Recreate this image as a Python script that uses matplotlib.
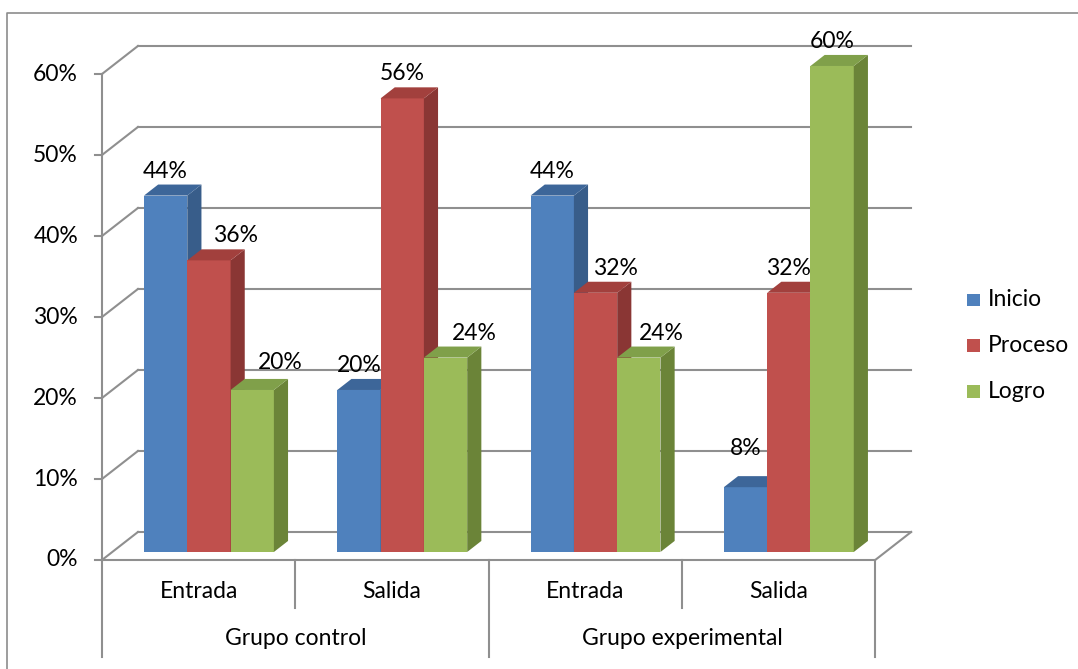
import matplotlib
matplotlib.use("Agg")
import matplotlib.pyplot as plt
from matplotlib.patches import Polygon, Rectangle

plt.rcParams['font.family'] = ['Lato', 'DejaVu Sans']

# ---- data ----
categories = ["Entrada", "Salida", "Entrada", "Salida"]
groups = ["Grupo control", "Grupo experimental"]
series = ["Inicio", "Proceso", "Logro"]
inicio = [44, 20, 44, 8]
proceso = [36, 56, 32, 32]
logro = [20, 24, 24, 60]
y_ticks = [0, 10, 20, 30, 40, 50, 60]
y_tick_labels = ["0%", "10%", "20%", "30%", "40%", "50%", "60%"]

values = [inicio, proceso, logro]
front_colors = ["#4f81bd", "#c0504d", "#9bbb59"]
side_colors = ["#385d8a", "#8a3634", "#6b8438"]
top_colors = ["#3d6699", "#a2403d", "#80a04a"]

# ---- oblique projection settings (x in category units, y in percent) ----
PX_X = 193.3    # pixels per category
PX_Y = 8.1      # pixels per percentage point
DX = 0.186      # depth shift along x for the full floor depth
DY = 3.46       # depth shift along y for the full floor depth
F1, F2 = 0.286, 0.68   # bar depth range (fraction of floor depth)
BW = 0.224      # bar width
GRID = "#8f8f8f"
FS = 16.5

# data-label nudges in pixels (series index, category index) -> (dx, dy)
label_nudge = {
    (1, 0): (27, 0), (2, 0): (28, 2.5),
    (2, 1): (29, 0),
    (1, 2): (20, 0), (2, 2): (22, 0),
    (0, 3): (0, 14),
}
LABEL_GAP = 24.5

fig = plt.figure(figsize=(10.78, 6.69), dpi=100)
ax = fig.add_axes([0, 0, 1, 1])
ax.set_xlim(-102 / PX_X, (1078 - 102) / PX_X)
ax.set_ylim((560 - 669) / PX_Y, 560 / PX_Y)
ax.axis("off")

n_cat = len(categories)

# border of the chart area
ax.plot([-0.492, -0.492, 6], [-30, 67.5, 67.5], color="#8c8c8c", lw=1.2,
        solid_capstyle="butt", zorder=1)

# back wall gridlines, left wall diagonals and value ticks
for t, lab in zip(y_ticks, y_tick_labels):
    ax.plot([DX, n_cat + DX], [t + DY, t + DY], color=GRID, lw=1.5, zorder=2)
    ax.plot([0, DX], [t, t + DY], color=GRID, lw=1.5, zorder=2)
    ax.plot([-0.036, 0], [t, t], color=GRID, lw=1.5, zorder=2)
    ax.text(-0.124, t, lab, ha="right", va="center", fontsize=FS, color="black")

# left axis and floor edges
ax.plot([0, 0], [0, y_ticks[-1]], color=GRID, lw=1.5, zorder=2)
ax.plot([0, n_cat, n_cat + DX], [0, 0, DY], color=GRID, lw=1.5, zorder=2)

# bars
for i in range(n_cat):
    for j in range(len(series)):
        v = values[j][i]
        xl = i + 0.5 + F1 * DX + (j - 1.5) * BW
        xr = xl + BW
        y0 = F1 * DY
        d_x = (F2 - F1) * DX
        d_y = (F2 - F1) * DY
        ax.add_patch(Polygon([(xl, y0), (xr, y0), (xr, y0 + v), (xl, y0 + v)],
                             closed=True, fc=front_colors[j], ec="none", zorder=3))
        ax.add_patch(Polygon([(xr, y0), (xr + d_x, y0 + d_y), (xr + d_x, y0 + d_y + v), (xr, y0 + v)],
                             closed=True, fc=side_colors[j], ec="none", zorder=3))
        ax.add_patch(Polygon([(xl, y0 + v), (xr, y0 + v), (xr + d_x, y0 + v + d_y), (xl + d_x, y0 + v + d_y)],
                             closed=True, fc=top_colors[j], ec="none", zorder=3))
        nx, ny = label_nudge.get((j, i), (0, 0))
        ax.text((xl + xr) / 2 + nx / PX_X, y0 + v + (LABEL_GAP + ny) / PX_Y, f"{v}%",
                ha="center", va="center", fontsize=FS, color="black", zorder=5)

# category axis: labels and separators
for i, c in enumerate(categories):
    ax.text(i + 0.5, -3.95, c, ha="center", va="center", fontsize=FS)
for k in range(n_cat + 1):
    bottom = -11.98 if k % 2 == 0 else -5.93
    ax.plot([k, k], [0, bottom], color=GRID, lw=1.5, zorder=2)
for g, name in enumerate(groups):
    ax.text(2 * g + 1, -9.75, name, ha="center", va="center", fontsize=FS)

# legend
leg_x = 4.475
leg_y = [32.1, 26.5, 20.8]
for j, s in enumerate(series):
    ax.add_patch(Rectangle((leg_x, leg_y[j] - 0.8), 0.067, 1.6, fc=front_colors[j], ec="none"))
    ax.text(leg_x + 0.108, leg_y[j], s, ha="left", va="center", fontsize=FS)

fig.savefig("out.png", dpi=100)
